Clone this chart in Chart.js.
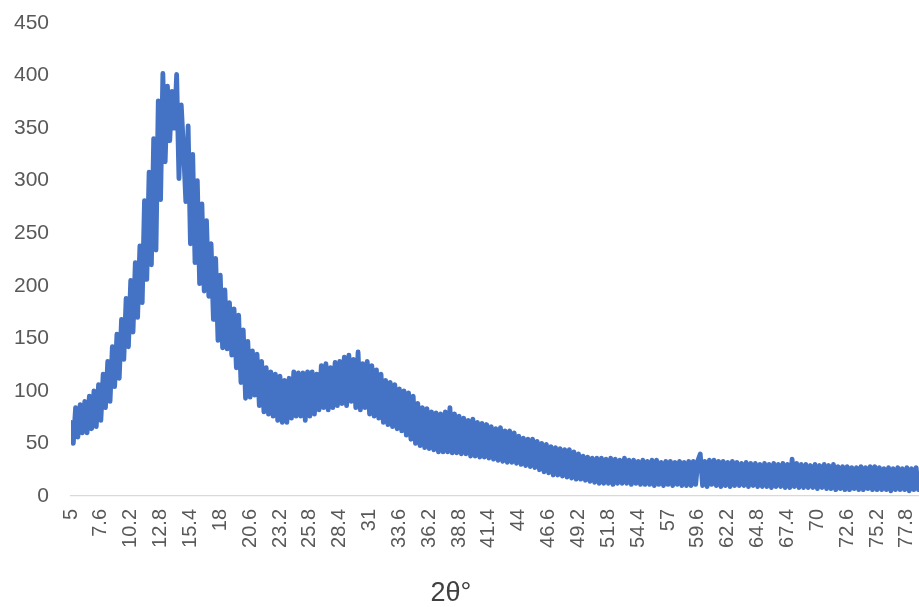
<!DOCTYPE html>
<html>
<head>
<meta charset="utf-8">
<script src="https://cdn.jsdelivr.net/npm/chart.js@4"></script>
<style>
  html, body { margin: 0; padding: 0; background: #ffffff; overflow: hidden; }
  #wrap { position: relative; width: 919px; height: 607px; }
</style>
</head>
<body>
<div id="wrap"><canvas id="c"></canvas></div>
<script>
// 2θ sampling grid (degrees)
const thetaStart = 5;
const thetaStep = 0.2;
const thetaMaxShown = 78.85;

// x-axis tick labels (2θ)
const tickLabels = [5, 7.6, 10.2, 12.8, 15.4, 18, 20.6, 23.2, 25.8, 28.4, 31, 33.6, 36.2, 38.8,
  41.4, 44, 46.6, 49.2, 51.8, 54.4, 57, 59.6, 62.2, 64.8, 67.4, 70, 72.6, 75.2, 77.8];

// y-axis ticks
const yMin = 0, yMax = 450, yStep = 50;

// intensity, one row per 2 degrees (5.0 … 78.8, step 0.2)
const intensity = [
  70, 50, 84, 56, 87, 60, 90, 60, 95, 64,           // 5.0
  100, 66, 106, 72, 116, 84, 128, 90, 142, 104,     // 7.0
  154, 112, 168, 130, 188, 142, 205, 156, 222, 170, // 9.0
  238, 184, 281, 206, 308, 220, 340, 234, 376, 282, // 11.0
  402, 318, 390, 338, 385, 350, 401, 302, 372, 330, // 13.0
  280, 352, 240, 325, 222, 300, 202, 278, 195, 262, // 15.0
  190, 240, 168, 226, 148, 210, 141, 196, 140, 184, // 17.0
  134, 178, 122, 172, 108, 158, 93, 147, 94, 138,   // 19.0
  96, 135, 86, 128, 80, 122, 78, 118, 76, 116,      // 21.0
  72, 114, 70, 110, 70, 112, 74, 118, 76, 117,      // 23.0
  76, 117, 72, 118, 76, 118, 78, 116, 82, 124,      // 25.0
  84, 126, 82, 122, 84, 127, 86, 128, 88, 132,      // 27.0
  86, 134, 90, 130, 84, 137, 82, 126, 84, 128,      // 29.0
  78, 124, 76, 120, 74, 116, 70, 110, 68, 108,      // 31.0
  66, 106, 64, 102, 62, 100, 58, 98, 54, 95,        // 33.0
  50, 88, 48, 84, 46, 83, 45, 80, 44, 79,           // 35.0
  42, 78, 42, 80, 42, 84, 41, 78, 41, 76,           // 37.0
  40, 74, 40, 72, 38, 73, 38, 70, 37, 69,           // 39.0
  37, 68, 36, 66, 35, 64, 34, 65, 33, 62,           // 41.0
  32, 62, 32, 60, 31, 57, 30, 55, 29, 54,           // 43.0
  28, 54, 27, 52, 25, 50, 23, 49, 22, 47,           // 45.0
  20, 46, 20, 45, 19, 44, 18, 44, 17, 42,           // 47.0
  16, 40, 16, 38, 15, 37, 14, 36, 13, 36,           // 49.0
  12, 36, 12, 35, 12, 36, 11, 35, 12, 34,           // 51.0
  12, 36, 12, 34, 11, 34, 12, 33, 11, 34,           // 53.0
  11, 33, 11, 34, 10, 34, 11, 32, 10, 33,           // 55.0
  11, 33, 10, 32, 11, 33, 10, 32, 10, 33,           // 57.0
  10, 33, 11, 34, 40, 10, 33, 9, 34, 11,            // 59.0
  34, 10, 33, 9, 33, 10, 32, 9, 33, 10,             // 61.0
  32, 10, 31, 10, 32, 9, 31, 10, 31, 9,             // 63.0
  30, 9, 31, 9, 30, 8, 31, 9, 30, 9,                // 65.0
  31, 8, 30, 8, 35, 9, 31, 8, 30, 8,                // 67.0
  30, 8, 29, 8, 30, 7, 29, 8, 30, 7,                // 69.0
  29, 7, 30, 6, 28, 7, 28, 6, 28, 6,                // 71.0
  27, 7, 27, 6, 28, 6, 27, 7, 28, 6,                // 73.0
  28, 6, 27, 6, 26, 6, 27, 5, 26, 6,                // 75.0
  27, 6, 26, 6, 27, 5, 26, 6, 27, 6                 // 77.0
];

const xTitle = '2θ°';

const points = intensity.map((v, i) => ({ x: +(thetaStart + i * thetaStep).toFixed(1), y: v }));

const tickColor = '#595959';
const fontFamily = '"Liberation Sans", Arial, sans-serif';

const xTitlePlugin = {
  id: 'xTitlePlugin',
  afterDraw(chart) {
    const { ctx, chartArea } = chart;
    ctx.save();
    ctx.font = '27px ' + fontFamily;
    ctx.fillStyle = '#404040';
    ctx.textAlign = 'center';
    ctx.textBaseline = 'middle';
    const cx = chartArea.left + (chartArea.right - chartArea.left) * 0.448;
    ctx.fillText(xTitle, cx, chart.height - 13);
    ctx.restore();
  }
};

new Chart(document.getElementById('c'), {
  type: 'line',
  data: {
    datasets: [{
      data: points,
      borderColor: '#4472C4',
      borderWidth: 4.8,
      borderJoinStyle: 'round',
      borderCapStyle: 'round',
      pointRadius: 0,
      tension: 0,
      fill: false
    }]
  },
  options: {
    responsive: true,
    maintainAspectRatio: false,
    animation: false,
    layout: { padding: { left: 13, right: 0, top: 23, bottom: 51 } },
    plugins: { legend: { display: false }, tooltip: { enabled: false } },
    scales: {
      x: {
        type: 'linear',
        min: thetaStart,
        max: thetaMaxShown,
        afterBuildTicks: (axis) => { axis.ticks = tickLabels.map(v => ({ value: v })); },
        afterFit: (axis) => { axis.height = 60; axis.paddingLeft = 0; axis.paddingRight = 0; },
        ticks: {
          autoSkip: false,
          minRotation: 90,
          maxRotation: 90,
          padding: 13,
          color: tickColor,
          font: { family: fontFamily, size: 20 },
          callback: (v) => String(v)
        },
        grid: { display: false, drawTicks: false },
        border: { display: true, color: '#d9d9d9', width: 1.3 }
      },
      y: {
        min: yMin,
        max: yMax,
        afterFit: (axis) => { axis.width = 58; axis.paddingTop = 0; axis.paddingBottom = 0; },
        ticks: {
          stepSize: yStep,
          padding: 22,
          color: tickColor,
          font: { family: fontFamily, size: 21 }
        },
        grid: { display: false, drawTicks: false },
        border: { display: false }
      }
    }
  },
  plugins: [xTitlePlugin]
});
</script>
</body>
</html>
